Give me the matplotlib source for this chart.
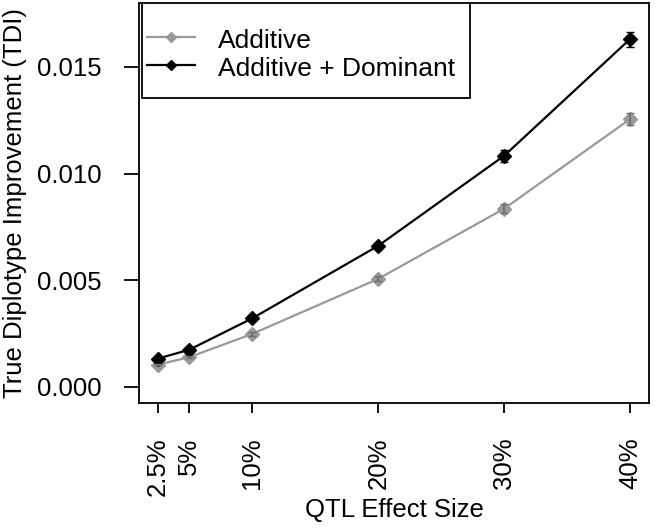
import matplotlib
matplotlib.use("Agg")
import matplotlib.pyplot as plt
from matplotlib.lines import Line2D
from matplotlib.patches import Rectangle

# values
effect = [2.5, 5, 10, 20, 30, 40]
tick_labels = ["2.5%", "5%", "10%", "20%", "30%", "40%"]
additive = [0.00105, 0.00140, 0.00249, 0.00507, 0.00836, 0.01256]
additive_err = [0.00004, 0.00005, 0.00008, 0.00012, 0.00022, 0.00030]
dominant = [0.00133, 0.00175, 0.00322, 0.00662, 0.01084, 0.01631]
dominant_err = [0.00004, 0.00005, 0.00009, 0.00014, 0.00027, 0.00035]

plt.rcParams['font.family'] = ['Liberation Sans', 'DejaVu Sans']

fig = plt.figure(figsize=(6.71, 5.28), dpi=100)
ax = fig.add_axes([139/671, 1 - 403/528, 510/671, 400/528])

gray = '#999999'
ax.plot(effect, additive, color=gray, marker='D', markersize=7, linewidth=1.6, zorder=2)
ax.errorbar(effect, additive, yerr=additive_err, fmt='none', ecolor='#707070',
            capsize=3, elinewidth=1.3, zorder=3)
ax.plot(effect, dominant, color='black', marker='D', markersize=7, linewidth=1.6, zorder=2)
ax.errorbar(effect, dominant, yerr=dominant_err, fmt='none', ecolor='black',
            capsize=3, elinewidth=1.3, zorder=3)

ax.set_xlim(1.0, 41.5)
ax.set_ylim(-0.00075, 0.0180)
ax.set_xticks(effect)
ax.set_xticklabels(tick_labels, rotation=90, fontsize=18.5)
ax.set_yticks([0.0, 0.005, 0.010, 0.015])
ax.set_yticklabels(["0.000", "0.005", "0.010", "0.015"], fontsize=18.5)
ax.tick_params(axis='x', length=7, width=1.3, pad=18)
ax.tick_params(axis='y', length=11, width=1.3, pad=16)
for s in ax.spines.values():
    s.set_linewidth(1.3)

ax.set_xlabel("QTL Effect Size", fontsize=18.5)
ax.set_ylabel("True Diplotype Improvement (TDI)", fontsize=18.5)
ax.xaxis.set_label_coords(0.5, -0.2675)
ax.yaxis.set_label_coords(-0.243, 0.5)
ax.xaxis.label.set_va('center')
ax.yaxis.label.set_va('center')

# legend frame drawn by hand so the padding can differ per side
ax.add_patch(Rectangle((0.006, 0.7625), 0.643, 0.2375, transform=ax.transAxes,
                       facecolor='white', edgecolor='black', linewidth=1.3, zorder=4))
handles = [Line2D([], [], color=gray, marker='D', markersize=5.5, linewidth=1.6),
           Line2D([], [], color='black', marker='D', markersize=5.5, linewidth=1.6)]
leg = ax.legend(handles, ['Additive', 'Additive + Dominant'], loc='upper left',
                fontsize=19, frameon=False, borderaxespad=0, borderpad=0,
                bbox_to_anchor=(0.0157, 0.9425), handlelength=1.8, handleheight=1.2,
                handletextpad=0.9, labelspacing=0.0)
leg.set_zorder(5)

fig.savefig("out.png", dpi=100)
